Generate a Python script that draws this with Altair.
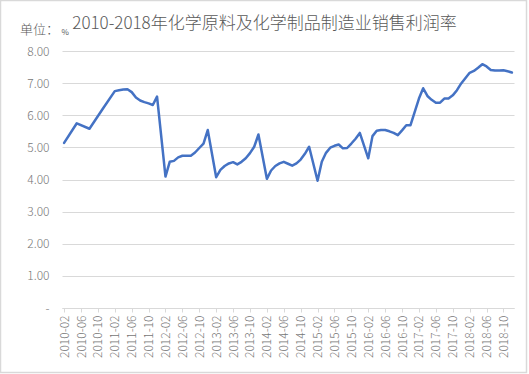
import altair as alt
import pandas as pd

# ---- data ----
months = [
    "2010-02", "2010-05", "2010-08", "2010-11",
    "2011-02", "2011-03", "2011-04", "2011-05", "2011-06", "2011-07", "2011-08", "2011-09", "2011-10", "2011-11", "2011-12",
    "2012-02", "2012-03", "2012-04", "2012-05", "2012-06", "2012-07", "2012-08", "2012-09", "2012-10", "2012-11", "2012-12",
    "2013-02", "2013-03", "2013-04", "2013-05", "2013-06", "2013-07", "2013-08", "2013-09", "2013-10", "2013-11", "2013-12",
    "2014-02", "2014-03", "2014-04", "2014-05", "2014-06", "2014-07", "2014-08", "2014-09", "2014-10", "2014-11", "2014-12",
    "2015-02", "2015-03", "2015-04", "2015-05", "2015-06", "2015-07", "2015-08", "2015-09", "2015-10", "2015-11", "2015-12",
    "2016-02", "2016-03", "2016-04", "2016-05", "2016-06", "2016-07", "2016-08", "2016-09", "2016-10", "2016-11", "2016-12",
    "2017-02", "2017-03", "2017-04", "2017-05", "2017-06", "2017-07", "2017-08", "2017-09", "2017-10", "2017-11", "2017-12",
    "2018-02", "2018-03", "2018-04", "2018-05", "2018-06", "2018-07", "2018-08", "2018-09", "2018-10", "2018-11", "2018-12",
]
values = [
    5.14, 5.75, 5.58, 6.17,
    6.75, 6.78, 6.80, 6.81, 6.72, 6.55, 6.46, 6.41, 6.37, 6.32, 6.58,
    4.09, 4.55, 4.58, 4.69, 4.74, 4.74, 4.74, 4.84, 4.98, 5.12, 5.54,
    4.07, 4.30, 4.42, 4.50, 4.54, 4.47, 4.55, 4.66, 4.82, 5.02, 5.40,
    4.02, 4.28, 4.42, 4.50, 4.55, 4.49, 4.43, 4.50, 4.62, 4.80, 5.02,
    3.96, 4.55, 4.83, 4.99, 5.05, 5.09, 4.97, 4.98, 5.12, 5.27, 5.45,
    4.66, 5.35, 5.52, 5.54, 5.54, 5.50, 5.45, 5.38, 5.53, 5.69, 5.69,
    6.52, 6.84, 6.60, 6.48, 6.39, 6.39, 6.52, 6.52, 6.62, 6.78, 6.99,
    7.32, 7.38, 7.48, 7.59, 7.52, 7.41, 7.39, 7.39, 7.40, 7.37, 7.33,
]
y_ticks = [0, 1, 2, 3, 4, 5, 6, 7, 8]
title_text = "2010-2018年化学原料及化学制品制造业销售利润率"
unit_text = "单位："
pct_text = "%"

# full category axis: every month (January has no data point)
all_months = [f"{y}-{m:02d}" for y in range(2010, 2019) for m in range(1, 13)][1:]
tick_months = all_months[::4]

df = pd.DataFrame({"month": months, "value": values})

FONT = "Noto Sans CJK SC"
GRAY = "#595959"
LABEL = "#767676"
GRID = "#d9d9d9"
NBSP = "\u00a0"

line = alt.Chart(df).mark_line(
    color="#4472C4", strokeWidth=2.5, strokeJoin="round", strokeCap="round"
).encode(
    x=alt.X(
        "month:O",
        scale=alt.Scale(type="point", domain=all_months, padding=0.5),
        axis=alt.Axis(
            values=tick_months,
            title=None,
            labelAngle=270,
            labelFont=FONT,
            labelFontSize=12,
            labelFontWeight=300,
            labelColor=LABEL,
            labelPadding=3,
            domainColor=GRID,
            domainWidth=1,
            tickColor=GRID,
            tickSize=4,
            grid=False,
            labelOverlap=False,
        ),
    ),
    y=alt.Y(
        "value:Q",
        scale=alt.Scale(domain=[0, 8], nice=False, zero=True),
        axis=alt.Axis(
            values=y_ticks,
            title=None,
            labelExpr=f"datum.value == 0 ? '-{NBSP*3}' : format(datum.value, '.2f')",
            labelFont=FONT,
            labelFontSize=12,
            labelFontWeight=300,
            labelColor=LABEL,
            labelPadding=13,
            domain=False,
            ticks=False,
            grid=True,
            gridColor=GRID,
            gridWidth=1,
        ),
    ),
)

one = alt.Data(values=[{"k": 1}])

title = alt.Chart(one).mark_text(
    text=title_text, font=FONT, fontSize=17, fontWeight=300, color=GRAY, align="center", baseline="middle"
).encode(x=alt.value(202.5), y=alt.value(-27.5))

unit = alt.Chart(one).mark_text(
    text=unit_text, font=FONT, fontSize=13, fontWeight=300, color=GRAY, align="left", baseline="middle"
).encode(x=alt.value(-42), y=alt.value(-21.5))

pct = alt.Chart(one).mark_text(
    text=pct_text, font=FONT, fontSize=8, color=GRAY, align="left", baseline="middle"
).encode(x=alt.value(-0.5), y=alt.value(-18.5))

border = alt.Chart(one).mark_rect(
    fillOpacity=0, stroke=GRID, strokeWidth=1.5
).encode(x=alt.value(-61.5), x2=alt.value(464.5), y=alt.value(-50.5), y2=alt.value(321.5))

chart = alt.layer(border, line, title, unit, pct).properties(
    width=452,
    height=257,
    padding={"left": 62, "top": 51, "right": 15, "bottom": 66},
    autosize=alt.AutoSizeParams(type="none"),
    background="white",
).configure_view(stroke=None)

chart.save("out.html", embed_options={"renderer": "svg", "actions": False})
